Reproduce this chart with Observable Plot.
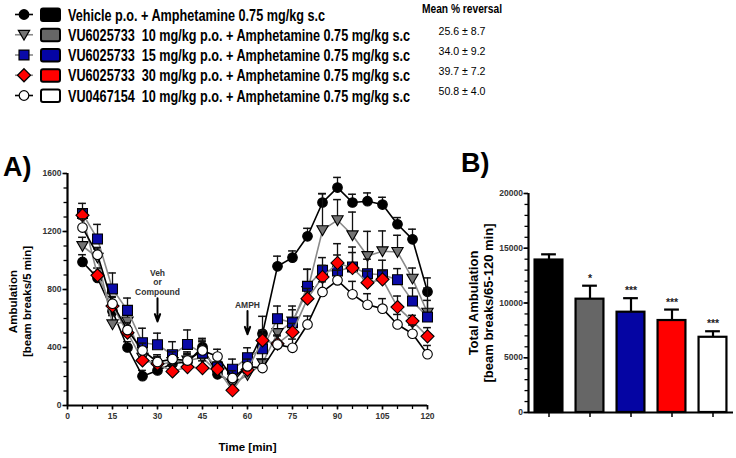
<!DOCTYPE html>
<html>
<head>
<meta charset="utf-8">
<script src="https://cdn.jsdelivr.net/npm/d3@7"></script>
<script src="https://cdn.jsdelivr.net/npm/@observablehq/plot@0.6"></script>
<style>
  body { margin: 0; background: #fff; }
  #page { position: relative; width: 736px; height: 458px; overflow: hidden; font-family: Arial, "Liberation Sans", sans-serif; }
  #legend { position: absolute; left: 0; top: 0; }
  #panelA { position: absolute; left: 0; top: 160px; }
  #panelB { position: absolute; left: 440px; top: 180px; }
  .plabel { position: absolute; font-weight: bold; font-size: 27px; line-height: 1; color: #000; }
  svg text.pre { white-space: pre; }
</style>
</head>
<body>
<div id="page">
  <div id="legend"></div>
  <div class="plabel" style="left:3px;top:154px">A)</div>
  <div class="plabel" style="left:461px;top:150px">B)</div>
  <div id="panelA"></div>
  <div id="panelB"></div>
</div>
<script>
// ---- Time course (panel A): ambulation per 5-min bin, mean and SEM ----
const time = [5, 10, 15, 20, 25, 30, 35, 40, 45, 50, 55, 60, 65, 70, 75, 80, 85, 90, 95, 100, 105, 110, 115, 120];

const vehicleMean = [990, 880, 650, 400, 202, 242, 290, 300, 403, 215, 160, 280, 495, 960, 1020, 1167, 1400, 1503, 1400, 1409, 1386, 1250, 1146, 785];
const vehicleSem  = [50, 40, 50, 40, 40, 40, 60, 50, 60, 40, 40, 60, 120, 70, 46, 55, 60, 70, 57, 57, 50, 46, 70, 95];

const vu10Mean = [1100, 1020, 560, 580, 330, 280, 300, 310, 330, 230, 150, 210, 292, 500, 580, 790, 1209, 1278, 1174, 1031, 1064, 1059, 875, 640];
const vu10Sem  = [60, 60, 60, 50, 50, 50, 50, 60, 60, 40, 40, 50, 80, 100, 80, 150, 253, 142, 160, 170, 140, 115, 73, 170];

const vu15Mean = [1324, 1149, 804, 656, 433, 419, 350, 421, 361, 265, 250, 330, 391, 599, 571, 822, 932, 928, 955, 909, 902, 868, 720, 610];
const vu15Sem  = [70, 100, 110, 85, 100, 80, 90, 100, 90, 65, 70, 68, 100, 87, 115, 117, 88, 110, 100, 100, 100, 76, 90, 115];

const vu30Mean = [1312, 898, 686, 502, 311, 288, 235, 265, 258, 251, 105, 246, 449, 426, 506, 737, 886, 983, 948, 847, 870, 679, 582, 477];
const vu30Sem  = [40, 50, 60, 50, 50, 50, 40, 50, 50, 50, 40, 50, 70, 60, 60, 70, 80, 133, 145, 80, 60, 76, 40, 60];

const vu0467Mean = [1227, 1040, 702, 520, 380, 300, 320, 310, 380, 338, 190, 270, 258, 420, 398, 559, 783, 863, 767, 695, 668, 559, 495, 354];
const vu0467Sem  = [60, 50, 50, 50, 50, 50, 50, 50, 60, 50, 50, 50, 60, 60, 60, 58, 70, 70, 89, 76, 69, 69, 60, 60];

// ---- Total ambulation 65-120 min (panel B) ----
const totalMean = [13925, 10350, 9160, 8400, 6870];
const totalSem  = [520, 1230, 1280, 1000, 550];
const significance = ["", "*", "***", "***", "***"];

// ---- Legend ----
const groupLabels = [
  "Vehicle p.o. + Amphetamine 0.75 mg/kg s.c",
  "VU6025733  10 mg/kg p.o. + Amphetamine 0.75 mg/kg s.c",
  "VU6025733  15 mg/kg p.o. + Amphetamine 0.75 mg/kg s.c",
  "VU6025733  30 mg/kg p.o. + Amphetamine 0.75 mg/kg s.c",
  "VU0467154  10 mg/kg p.o. + Amphetamine 0.75 mg/kg s.c"
];
const reversalMean = [25.6, 34.0, 39.7, 50.8];
const reversalSem  = [8.7, 9.2, 7.2, 4.0];

// downward-pointing triangle symbol
const triangleDown = {
  draw(context, size) {
    const s = Math.sqrt(size);
    const w = s * 0.58, top = -s * 0.45, bottom = s * 0.55;
    context.moveTo(-w, top);
    context.lineTo(w, top);
    context.lineTo(0, bottom);
    context.closePath();
  }
};

const styleOf = [
  {symbol: d3.symbolCircle,   r: 4.8, fill: "#000000", line: "#000000", bar: "#000000"},
  {symbol: triangleDown,      r: 5.5, fill: "#737373", line: "#8a8a8a", bar: "#666666"},
  {symbol: d3.symbolSquare,   r: 5.6, fill: "#0a0aa8", line: "#8a8a8a", bar: "#0505a3"},
  {symbol: d3.symbolDiamond2, r: 5.9, fill: "#ff0000", line: "#8a8a8a", bar: "#ff0000"},
  {symbol: d3.symbolCircle,   r: 4.8, fill: "#ffffff", line: "#000000", bar: "#ffffff"}
];

const means = [vehicleMean, vu10Mean, vu15Mean, vu30Mean, vu0467Mean];
const sems  = [vehicleSem, vu10Sem, vu15Sem, vu30Sem, vu0467Sem];

// ---------- legend ----------
const lg = d3.select("#legend").append("svg")
  .attr("width", 736).attr("height", 108)
  .style("font-family", '"Liberation Sans", Arial, sans-serif');

groupLabels.forEach((label, i) => {
  const cy = 14.5 + 20.25 * i, st = styleOf[i];
  lg.append("line").attr("x1", 15).attr("x2", 33).attr("y1", cy).attr("y2", cy)
    .attr("stroke", st.line).attr("stroke-width", 1.6);
  lg.append("path").attr("d", d3.symbol(st.symbol, Math.PI * st.r * st.r)())
    .attr("transform", `translate(24,${cy})`)
    .attr("fill", st.fill).attr("stroke", "#000").attr("stroke-width", 1.2);
  lg.append("rect").attr("x", 41).attr("y", cy - 6).attr("width", 19).attr("height", 12.5).attr("rx", 2)
    .attr("fill", st.bar).attr("stroke", "#000").attr("stroke-width", 2);
  // tall, condensed bold lettering
  lg.append("text").attr("class", "pre")
    .attr("transform", `translate(68,${cy + 6.2}) scale(1,1.27)`)
    .attr("font-size", 13).attr("font-weight", "bold")
    .attr("textLength", i === 0 ? 257 : 342).attr("lengthAdjust", "spacingAndGlyphs")
    .text(label);
});

lg.append("text").attr("x", 462).attr("y", 13).attr("text-anchor", "middle")
  .attr("font-size", 12).attr("font-weight", "bold")
  .attr("textLength", 80).attr("lengthAdjust", "spacingAndGlyphs")
  .text("Mean % reversal");
reversalMean.forEach((m, i) => {
  lg.append("text").attr("x", 462).attr("y", 35 + 20 * i).attr("text-anchor", "middle")
    .attr("font-size", 11.5)
    .attr("textLength", 47).attr("lengthAdjust", "spacingAndGlyphs")
    .text(`${m.toFixed(1)} ± ${reversalSem[i].toFixed(1)}`);
});

// ---------- panel A: time course ----------
const rows = means.flatMap((vals, k) => time.map((t, i) => ({k, t, v: vals[i], e: sems[k][i]})));

const tickFont = {fontSize: 8.5, fontWeight: "bold", fill: "#333"};
const marksA = [];

means.forEach((_, k) => {
  const d = rows.filter(r => r.k === k), st = styleOf[k];
  marksA.push(
    Plot.ruleX(d, {x: "t", y1: "v", y2: r => r.v + r.e, stroke: "#111", strokeWidth: 1.3}),
    Plot.ruleY(d, {y: r => r.v + r.e, x1: r => r.t - 1.3, x2: r => r.t + 1.3, stroke: "#111", strokeWidth: 1.5}),
    Plot.line(d, {x: "t", y: "v", stroke: st.line, strokeWidth: 1.6}),
    Plot.dot(d, {x: "t", y: "v", symbol: st.symbol, r: st.r, fill: st.fill, stroke: "#000", strokeWidth: 1.1})
  );
});

marksA.push(
  // dosing annotations
  Plot.text([{t: 30, y: 765}], {x: "t", y: "y", text: () => "Veh\nor\nCompound", lineAnchor: "bottom",
    lineHeight: 1.1, fontSize: 8.5, fontWeight: "bold", fill: "#333", letterSpacing: 0.4}),
  Plot.arrow([{t: 30, y1: 740, y2: 580}], {x1: "t", x2: "t", y1: "y1", y2: "y2", strokeWidth: 2, headLength: 7, headAngle: 40, stroke: "#000"}),
  Plot.text([{t: 60, y: 675}], {x: "t", y: "y", text: () => "AMPH", lineAnchor: "bottom",
    fontSize: 8.5, fontWeight: "bold", fill: "#333", letterSpacing: 0.4}),
  Plot.arrow([{t: 60, y1: 652, y2: 492}], {x1: "t", x2: "t", y1: "y1", y2: "y2", strokeWidth: 2, headLength: 7, headAngle: 40, stroke: "#000"}),
  // axes
  Plot.axisY({ticks: d3.range(0, 1601, 100), tickSize: 3.5, tickFormat: () => "", strokeWidth: 1.3, label: null}),
  Plot.axisY({ticks: [0, 400, 800, 1200, 1600], tickSize: 4.5, tickPadding: 1.5, tickFormat: d => String(d), strokeWidth: 1.5, label: null, ...tickFont}),
  Plot.axisX({ticks: d3.range(0, 121, 5), tickSize: 4, tickFormat: () => "", strokeWidth: 1.3, label: null}),
  Plot.axisX({ticks: [0, 15, 30, 45, 60, 75, 90, 105, 120], tickSize: 4.5, tickPadding: 3, tickFormat: d => String(d), strokeWidth: 1.5, label: null, ...tickFont}),
  Plot.ruleX([0], {strokeWidth: 2.2}),
  Plot.ruleY([0], {strokeWidth: 2.2}),
  Plot.text(["Ambulation\n[beam breaks/5 min]"], {frameAnchor: "left", rotate: -90, dx: -48, dy: 12,
    lineAnchor: "middle", textAnchor: "middle", lineHeight: 1.25, fontSize: 11.5, fontWeight: "bold", fill: "#000"}),
  Plot.text(["Time [min]"], {frameAnchor: "bottom", dy: 42, lineAnchor: "middle", fontSize: 11.5, fontWeight: "bold", fill: "#000"})
);

const plotA = Plot.plot({
  width: 440, height: 298,
  marginLeft: 67, marginRight: 13, marginTop: 13, marginBottom: 53,
  x: {domain: [0, 120], label: null},
  y: {domain: [0, 1600], label: null},
  style: {background: "none", overflow: "visible", fontFamily: "Arial, 'Liberation Sans', sans-serif", color: "#000"},
  marks: marksA
});
document.getElementById("panelA").appendChild(plotA);

// ---------- panel B: total ambulation ----------
const bars = totalMean.map((v, i) => ({i: i + 1, v, e: totalSem[i], star: significance[i], fill: styleOf[i].bar}));

const plotB = Plot.plot({
  width: 296, height: 278,
  marginLeft: 88, marginRight: 3, marginTop: 13, marginBottom: 46,
  x: {domain: [0.5, 5.5], label: null},
  y: {domain: [0, 20000], label: null},
  color: {type: "identity"},
  style: {background: "none", overflow: "visible", fontFamily: "Arial, 'Liberation Sans', sans-serif", color: "#000"},
  marks: [
    Plot.ruleX(bars, {x: "i", y1: "v", y2: d => d.v + d.e, strokeWidth: 2.2, stroke: "#000"}),
    Plot.ruleY(bars, {y: d => d.v + d.e, x1: d => d.i - 0.18, x2: d => d.i + 0.18, strokeWidth: 2.2, stroke: "#000"}),
    Plot.rect(bars, {x1: d => d.i - 0.34, x2: d => d.i + 0.34, y1: 0, y2: "v", fill: "fill", stroke: "#000", strokeWidth: 2.2}),
    Plot.text(bars, {x: "i", y: d => d.v + d.e, text: "star", dy: -4, lineAnchor: "bottom", fontSize: 10.5, fontWeight: "bold", fill: "#222"}),
    Plot.axisY({ticks: d3.range(0, 20001, 1000), tickSize: 3.5, tickFormat: () => "", strokeWidth: 1.3, label: null}),
    Plot.axisY({ticks: [0, 5000, 10000, 15000, 20000], tickSize: 4.5, tickPadding: 1, tickFormat: d => String(d), strokeWidth: 1.5, label: null, ...tickFont}),
    Plot.axisX({ticks: [1, 2, 3, 4, 5], tickSize: 5, tickFormat: () => "", strokeWidth: 1.5, label: null}),
    Plot.ruleX([0.5], {strokeWidth: 2.2}),
    Plot.ruleY([0], {strokeWidth: 2.2}),
    Plot.text(["Total Ambulation\n[beam breaks/65-120 min]"], {frameAnchor: "left", rotate: -90, dx: -48, dy: 0,
      lineAnchor: "middle", textAnchor: "middle", lineHeight: 1.2, fontSize: 13, fontWeight: "bold", fill: "#000"})
  ]
});
document.getElementById("panelB").appendChild(plotB);
</script>
</body>
</html>
